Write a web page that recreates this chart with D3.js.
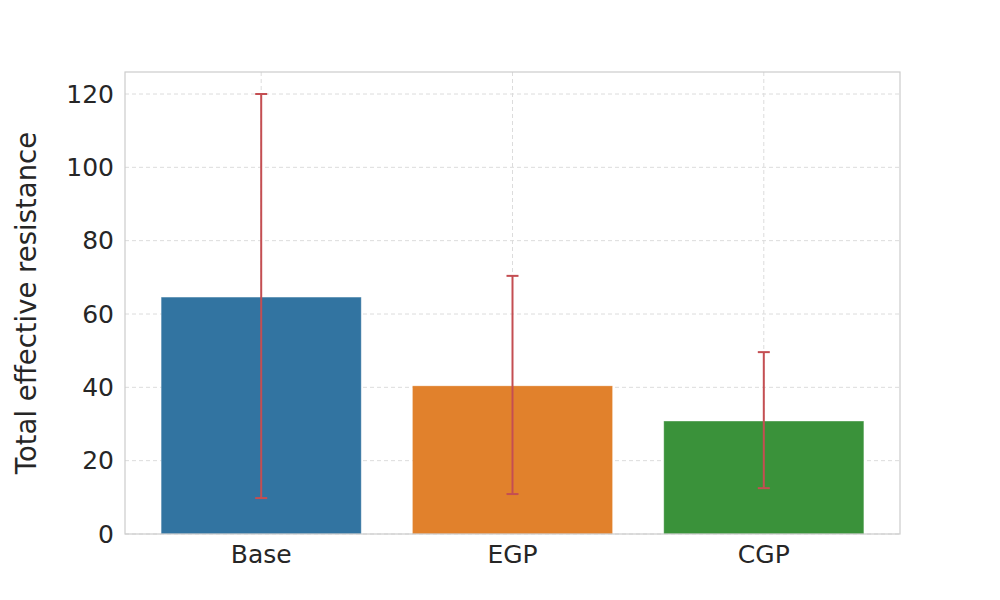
<!DOCTYPE html>
<html>
<head>
<meta charset="utf-8">
<script src="https://cdn.jsdelivr.net/npm/d3@7"></script>
<style>
  body { margin: 0; background: #fff; }
  text { font-family: "DejaVu Sans", sans-serif; fill: #262626; }
</style>
</head>
<body>
<div id="chart"></div>
<script>
// data
const categories = ["Base", "EGP", "CGP"];
const means = [64.6, 40.4, 30.8];
const errLow = [9.8, 10.9, 12.5];
const errHigh = [120.0, 70.4, 49.6];
const barColors = ["#3274a1", "#e1812c", "#3a923a"];
const yTicks = [0, 20, 40, 60, 80, 100, 120];

const width = 1000;
const height = 600;
const margin = { top: 72, right: 100, bottom: 66, left: 125 };

const svg = d3.select("#chart")
  .append("svg")
  .attr("width", width)
  .attr("height", height);

const x = d3.scaleBand()
  .domain(categories)
  .range([margin.left, width - margin.right])
  .paddingInner(0.204)
  .paddingOuter(0.144);

const y = d3.scaleLinear()
  .domain([0, 126])
  .range([height - margin.bottom, margin.top]);

// grid
const grid = svg.append("g");
grid.selectAll("line.h")
  .data(yTicks)
  .join("line")
  .attr("x1", margin.left)
  .attr("x2", width - margin.right)
  .attr("y1", d => y(d))
  .attr("y2", d => y(d))
  .attr("stroke", "#dcdcdc")
  .attr("stroke-dasharray", "4,3");
grid.selectAll("line.v")
  .data(categories)
  .join("line")
  .attr("x1", d => x(d) + x.bandwidth() / 2)
  .attr("x2", d => x(d) + x.bandwidth() / 2)
  .attr("y1", margin.top)
  .attr("y2", height - margin.bottom)
  .attr("stroke", "#dcdcdc")
  .attr("stroke-dasharray", "4,3");

// bars
svg.append("g")
  .selectAll("rect")
  .data(categories)
  .join("rect")
  .attr("x", d => x(d))
  .attr("width", x.bandwidth())
  .attr("y", (d, i) => y(means[i]))
  .attr("height", (d, i) => y(0) - y(means[i]))
  .attr("fill", (d, i) => barColors[i])
  .attr("stroke", "rgba(255,255,255,0.25)")
  .attr("stroke-width", 1);

// error bars
const errG = svg.append("g")
  .attr("stroke", "#c44e52")
  .attr("stroke-width", 2);
categories.forEach((c, i) => {
  const cx = x(c) + x.bandwidth() / 2;
  errG.append("line")
    .attr("x1", cx).attr("x2", cx)
    .attr("y1", y(errLow[i])).attr("y2", y(errHigh[i]));
  [errLow[i], errHigh[i]].forEach(v => {
    errG.append("line")
      .attr("x1", cx - 6).attr("x2", cx + 6)
      .attr("y1", y(v)).attr("y2", y(v));
  });
});

// frame
svg.append("rect")
  .attr("x", margin.left)
  .attr("y", margin.top)
  .attr("width", width - margin.left - margin.right)
  .attr("height", height - margin.top - margin.bottom)
  .attr("fill", "none")
  .attr("stroke", "#cccccc")
  .attr("stroke-width", 1.2);

// axes
const yAxis = svg.append("g")
  .attr("transform", `translate(${margin.left},0)`)
  .call(d3.axisLeft(y).tickValues(yTicks).tickSize(0).tickPadding(11));
yAxis.select(".domain").remove();
yAxis.selectAll("text")
  .style("font-size", "25px")
  .style("font-family", "'DejaVu Sans', sans-serif")
  .style("fill", "#262626");

const xAxis = svg.append("g")
  .attr("transform", `translate(0,${height - margin.bottom})`)
  .call(d3.axisBottom(x).tickSize(0).tickPadding(11));
xAxis.select(".domain").remove();
xAxis.selectAll("text")
  .style("font-size", "25px")
  .style("font-family", "'DejaVu Sans', sans-serif")
  .style("fill", "#262626");

svg.append("text")
  .attr("transform", `translate(36,${(margin.top + height - margin.bottom) / 2}) rotate(-90)`)
  .attr("text-anchor", "middle")
  .style("font-size", "27.5px")
  .text("Total effective resistance");
</script>
</body>
</html>
